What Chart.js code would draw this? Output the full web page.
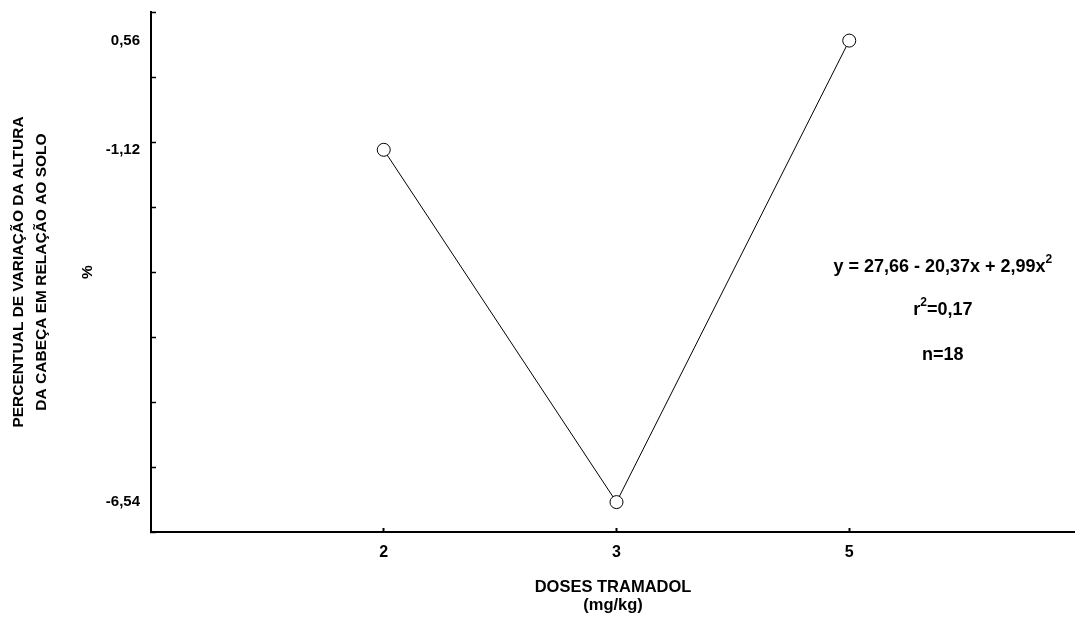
<!DOCTYPE html>
<html>
<head>
<meta charset="utf-8">
<script src="https://cdn.jsdelivr.net/npm/chart.js@4/dist/chart.umd.min.js"></script>
<style>
  html, body { margin: 0; padding: 0; background: #ffffff; overflow: hidden; }
  #wrap { width: 1075px; height: 617px; }
  canvas { display: block; }
</style>
</head>
<body>
<div id="wrap"><canvas id="c" width="1075" height="617"></canvas></div>
<script>
// ---- data ----
const doses = ['2', '3', '5'];
const percentChange = [-1.12, -6.54, 0.56];
const yLabelValues = [0.56, -1.12, -6.54];
const yLabelTexts = ['0,56', '-1,12', '-6,54'];
const yMinorTicks = [1, 0, -1, -2, -3, -4, -5, -6, -7];
const yTitleLines = ['PERCENTUAL DE VARIAÇÃO DA ALTURA', 'DA CABEÇA EM RELAÇÃO AO SOLO', '', '%'];
const xTitleLines = ['DOSES TRAMADOL', '(mg/kg)'];
const equationLines = [
  { text: 'y = 27,66 - 20,37x + 2,99x', sup: '2' },
  { text: 'r', sup: '2', after: '=0,17' },
  { text: 'n=18', sup: '' }
];

const FONT = "'Liberation Sans', Arial, Helvetica, sans-serif";

const points = percentChange.map((v, i) => ({ x: i, y: v }));

function zeroPadding(s) {
  s.paddingTop = 0; s.paddingBottom = 0; s.paddingLeft = 0; s.paddingRight = 0;
}

const equationPlugin = {
  id: 'equation',
  afterDraw(chart) {
    const ctx = chart.ctx;
    const a = chart.chartArea;
    const cx = a.left + 0.857 * (a.right - a.left);
    const ys = [0.490, 0.573, 0.660].map(f => a.top + f * (a.bottom - a.top));
    ctx.save();
    ctx.fillStyle = '#000';
    ctx.textBaseline = 'middle';
    ctx.textAlign = 'left';
    const mainFont = 'bold 18px ' + FONT;
    const supFont = 'bold 12px ' + FONT;
    equationLines.forEach((ln, i) => {
      ctx.font = mainFont;
      const w1 = ctx.measureText(ln.text).width;
      const w3 = ln.after ? ctx.measureText(ln.after).width : 0;
      ctx.font = supFont;
      const w2 = ln.sup ? ctx.measureText(ln.sup).width : 0;
      const total = w1 + w2 + w3;
      let x = cx - total / 2;
      const y = ys[i];
      ctx.font = mainFont;
      ctx.fillText(ln.text, x, y);
      x += w1;
      if (ln.sup) {
        ctx.font = supFont;
        ctx.fillText(ln.sup, x, y - 7);
        x += w2;
      }
      if (ln.after) {
        ctx.font = mainFont;
        ctx.fillText(ln.after, x, y);
      }
    });
    ctx.restore();
  }
};

new Chart(document.getElementById('c'), {
  type: 'line',
  data: {
    datasets: [{
      data: points,
      borderColor: '#000',
      borderWidth: 1,
      pointRadius: 6.5,
      pointHoverRadius: 6.5,
      pointBackgroundColor: '#fff',
      pointBorderColor: '#000',
      pointBorderWidth: 1,
      tension: 0,
      clip: false
    }]
  },
  options: {
    responsive: false,
    animation: false,
    devicePixelRatio: 1,
    layout: { autoPadding: false, padding: { top: 12, right: 0, left: 0, bottom: 0 } },
    plugins: { legend: { display: false }, tooltip: { enabled: false } },
    scales: {
      x: {
        type: 'linear',
        position: 'bottom',
        min: -1,
        max: 2.97,
        afterBuildTicks: (s) => { s.ticks = doses.map((d, i) => ({ value: i })); },
        afterFit: (s) => { s.height = 85; zeroPadding(s); },
        border: { display: true, color: '#000', width: 2 },
        grid: { drawOnChartArea: false, drawTicks: true, tickLength: -4, tickColor: '#000', tickWidth: 2 },
        ticks: {
          autoSkip: false,
          maxRotation: 0,
          padding: 15,
          color: '#000',
          font: { family: FONT, size: 16, weight: 'bold' },
          callback: (v) => doses[v] !== undefined ? doses[v] : ''
        },
        title: {
          display: true,
          text: xTitleLines,
          color: '#000',
          font: { family: FONT, size: 16.5, weight: 'bold', lineHeight: '17.5px' },
          padding: { top: 0, bottom: 3 }
        }
      },
      y: {
        type: 'linear',
        min: -7,
        max: 1,
        afterBuildTicks: (s) => {
          const vals = yMinorTicks.concat(yLabelValues).sort((a, b) => a - b);
          s.ticks = vals.map(v => ({ value: v }));
        },
        afterFit: (s) => { s.width = 151; zeroPadding(s); },
        border: { display: true, color: '#000', width: 2 },
        grid: {
          drawOnChartArea: false,
          drawTicks: true,
          tickLength: -5,
          tickWidth: 1.5,
          tickColor: (c) => (c.tick && yMinorTicks.includes(c.tick.value)) ? '#000' : 'rgba(0,0,0,0)'
        },
        ticks: {
          autoSkip: false,
          padding: 16,
          color: '#000',
          font: { family: FONT, size: 15, weight: 'bold' },
          callback: (v) => {
            const i = yLabelValues.indexOf(v);
            return i >= 0 ? yLabelTexts[i] : '';
          }
        },
        title: {
          display: true,
          text: yTitleLines,
          color: '#000',
          font: { family: FONT, size: 15.5, weight: 'bold', lineHeight: '23px' },
          padding: { top: 7, bottom: 0 }
        }
      }
    }
  },
  plugins: [equationPlugin]
});
</script>
</body>
</html>
